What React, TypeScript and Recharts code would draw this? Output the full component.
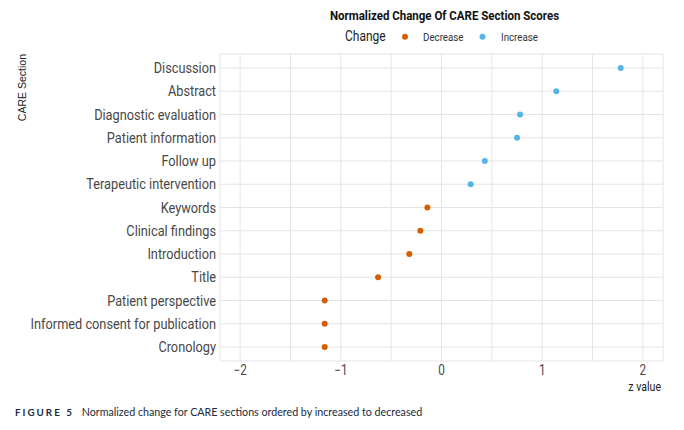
import React from "react";
import {
  ScatterChart,
  Scatter,
  XAxis,
  YAxis,
  CartesianGrid,
} from "recharts";

// CARE sections, top to bottom
const sections = [
  "Discussion",
  "Abstract",
  "Diagnostic evaluation",
  "Patient information",
  "Follow up",
  "Terapeutic intervention",
  "Keywords",
  "Clinical findings",
  "Introduction",
  "Title",
  "Patient perspective",
  "Informed consent for publication",
  "Cronology",
];

// z value per section
const zValues = [1.78, 1.14, 0.78, 0.75, 0.43, 0.29, -0.14, -0.21, -0.32, -0.63, -1.16, -1.16, -1.16];

const xTicks = [-2, -1.5, -1, -0.5, 0, 0.5, 1, 1.5, 2];
const xLabelTicks = [-2, -1, 0, 1, 2];

const DECREASE = "#D55E00";
const INCREASE = "#56B4E9";
const CONDENSED = 0.84;

const rows = sections.map((s, i) => ({ section: s, idx: i, z: zValues[i] }));
const decreaseData = rows.filter((r) => r.z < 0);
const increaseData = rows.filter((r) => r.z >= 0);

const YTick = (props: any) => {
  const { x, y, payload } = props;
  return (
    <g transform={`translate(${x},${y})`}>
      <text
        transform="scale(0.88,1)"
        textAnchor="end"
        dy="0.36em"
        fill="#474747"
        fontSize={14.5}
        fontFamily="Roboto"
      >
        {sections[payload.value]}
      </text>
    </g>
  );
};

const XTick = (props: any) => {
  const { x, y, payload } = props;
  if (!xLabelTicks.includes(payload.value)) return null;
  const label = payload.value < 0 ? `\u2212${Math.abs(payload.value)}` : `${payload.value}`;
  return (
    <g transform={`translate(${x},${y})`}>
      <text
        transform={`scale(${CONDENSED},1)`}
        textAnchor="middle"
        dy="0.72em"
        fill="#474747"
        fontSize={14}
        fontFamily="Roboto"
      >
        {label}
      </text>
    </g>
  );
};

const Dot = (props: any) => {
  const { cx, cy, fill } = props;
  return <circle cx={cx} cy={cy} r={3} fill={fill} />;
};

export default function App() {
  return (
    <div style={{ position: "absolute", left: 0, top: 0, width: 684, height: 430, background: "#fff" }}>
      <ScatterChart
        width={684}
        height={430}
        margin={{ top: 54, right: 21, bottom: 39, left: 0 }}
      >
        <CartesianGrid stroke="#e4e4e4" strokeWidth={1} />
        <XAxis
          type="number"
          dataKey="z"
          domain={[-2.2, 2.2]}
          ticks={xTicks}
          axisLine={false}
          tickLine={false}
          tickSize={4}
          tickMargin={0}
          height={30}
          tick={<XTick />}
          interval={0}
        />
        <YAxis
          type="number"
          dataKey="idx"
          domain={[-0.6, sections.length - 0.4]}
          ticks={sections.map((_, i) => i)}
          reversed
          axisLine={false}
          tickLine={false}
          tickSize={4}
          tickMargin={0}
          width={220}
          tick={<YTick />}
          interval={0}
        />
        <Scatter name="Decrease" data={decreaseData} fill={DECREASE} shape={<Dot />} isAnimationActive={false} />
        <Scatter name="Increase" data={increaseData} fill={INCREASE} shape={<Dot />} isAnimationActive={false} />
      </ScatterChart>

      <svg
        width={684}
        height={430}
        style={{ position: "absolute", left: 0, top: 0, pointerEvents: "none" }}
      >
        <g transform="translate(444.5,20)">
          <text transform={`scale(${CONDENSED},1)`} textAnchor="middle" fontFamily="Roboto" fontWeight={700} fontSize={13.7} fill="#111">
            Normalized Change Of CARE Section Scores
          </text>
        </g>
        <g transform="translate(345,41)">
          <text transform={`scale(${CONDENSED},1)`} fontFamily="Roboto" fontSize={14.3} fill="#222">
            Change
          </text>
        </g>
        <circle cx={405} cy={36.7} r={3} fill={DECREASE} />
        <g transform="translate(423,40.5)">
          <text transform={`scale(${CONDENSED},1)`} fontFamily="Roboto" fontSize={11.6} fill="#333">
            Decrease
          </text>
        </g>
        <circle cx={482.5} cy={36.7} r={3} fill={INCREASE} />
        <g transform="translate(501,40.5)">
          <text transform={`scale(${CONDENSED},1)`} fontFamily="Roboto" fontSize={11.6} fill="#333">
            Increase
          </text>
        </g>
        <text
          transform="translate(26,54) rotate(-90)"
          textAnchor="end"
          fontFamily="Liberation Sans"
          fontSize={10.5}
          fill="#222"
        >
          CARE Section
        </text>
        <g transform="translate(661,391)">
          <text transform={`scale(${CONDENSED},1)`} textAnchor="end" fontFamily="Roboto" fontSize={12.6} fill="#222">
            z value
          </text>
        </g>
        <text x={15} y={415.7} fontFamily="Lato" fontWeight={700} fontSize={9.8} letterSpacing={2} fill="#1b2a3a">
          FIGURE 5
        </text>
        <text x={81.7} y={415.7} fontFamily="Lato" fontSize={10.7} fill="#1b2a3a">
          Normalized change for CARE sections ordered by increased to decreased
        </text>
      </svg>
    </div>
  );
}
